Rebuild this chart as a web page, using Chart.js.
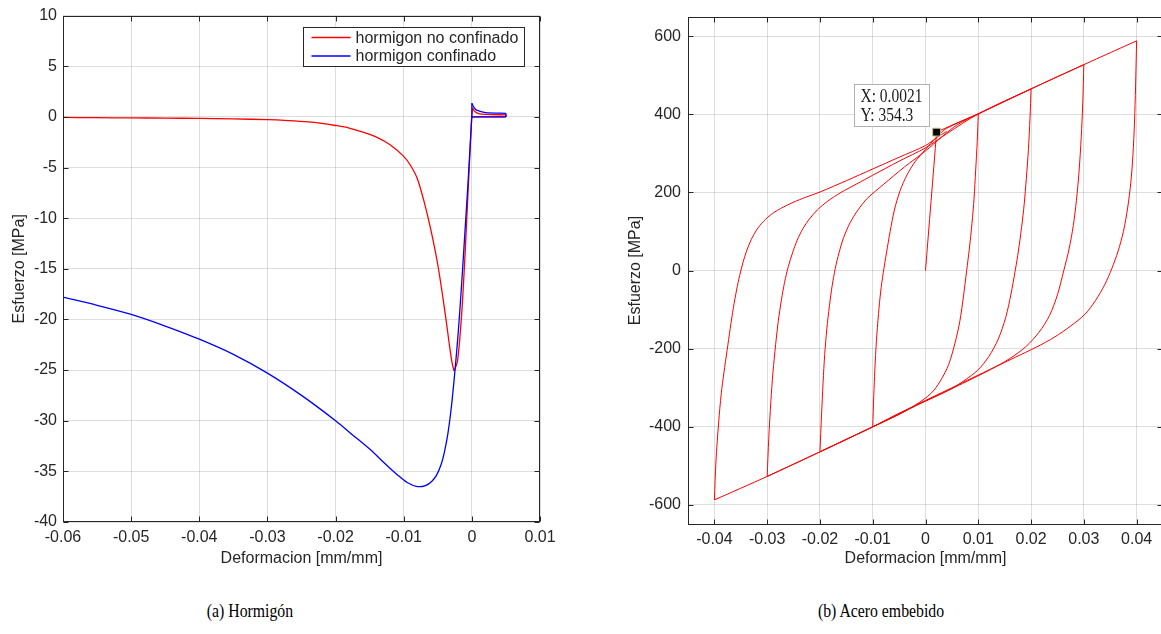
<!DOCTYPE html>
<html>
<head>
<meta charset="utf-8">
<script src="https://cdn.jsdelivr.net/npm/chart.js@4.4.0/dist/chart.umd.min.js"></script>
<style>
body { margin:0; width:1161px; height:634px; overflow:hidden; background:#fff; position:relative; }
.lienzo { position:absolute; top:0; width:580px; height:580px; }
.pie { position:absolute; top:600px; font-family:"Liberation Serif", "Times New Roman", serif; font-size:19px; line-height:22px; color:#000; white-space:nowrap; transform:translateX(-50%) scaleX(0.83); }
</style>
</head>
<body>
<div class="lienzo" style="left:0"><canvas id="hormigon" width="580" height="580"></canvas></div>
<div class="lienzo" style="left:600px"><canvas id="acero" width="580" height="580"></canvas></div>
<div class="pie" style="left:250px">(a) Hormigón</div>
<div class="pie" style="left:881px">(b) Acero embebido</div>
<script>
var nombres = ['hormigon no confinado', 'hormigon confinado'];
var colores = ['#ff0000', '#0000ff'];

// hormigon no confinado
var noConfDef = [-0.06, -0.055, -0.05, -0.045, -0.04, -0.035, -0.03, -0.027, -0.024, -0.022, -0.02, -0.018, -0.016, -0.014, -0.012, -0.01, -0.009, -0.008, -0.007, -0.006, -0.005, -0.004, -0.0033, -0.0029, -0.0026, -0.0021, -0.0015, -0.001, -0.0006, -0.00025, 0, 0.0001, 0.0004, 0.001, 0.002, 0.005, 0.005, 0];
var noConfEsf = [-0.05, -0.08, -0.1, -0.12, -0.15, -0.2, -0.28, -0.37, -0.5, -0.65, -0.85, -1.1, -1.5, -2.0, -2.75, -3.9, -4.8, -6.1, -8.4, -11.2, -14.6, -19.0, -22.5, -24.3, -25.1, -24.1, -19.5, -13.6, -8.0, -3.1, 0.15, 0.9, 0.55, 0.33, 0.25, 0.2, 0, 0];
var cortesNoConf = [24, 30, 31, 35, 36];

// hormigon confinado
var confDef = [-0.06, -0.055, -0.05, -0.045, -0.04, -0.035, -0.03, -0.025, -0.02, -0.0175, -0.015, -0.0125, -0.011, -0.0095, -0.008, -0.0068, -0.0059, -0.0052, -0.0045, -0.004, -0.0035, -0.003, -0.0025, -0.002, -0.0015, -0.001, -0.0005, 0, 0, 0.0003, 0.0007, 0.002, 0.005, 0.005, 0];
var confEsf = [-17.8, -18.6, -19.5, -20.65, -21.95, -23.45, -25.3, -27.5, -30.0, -31.4, -32.8, -34.4, -35.3, -36.1, -36.5, -36.4, -36.0, -35.4, -34.3, -33.0, -31.2, -28.6, -25.2, -21.3, -16.5, -11.2, -5.8, 0.2, 1.35, 0.95, 0.66, 0.42, 0.35, 0, 0];
var cortesConf = [27, 28, 32, 33];

// acero embebido: ciclos a +-0.01, 0.02, 0.03, 0.04 (una fila por rama)
var aceroDef = [
  0, 0.0021, 0.005, 0.01,
  0.0098, 0.0095, 0.0092, 0.0088, 0.0083, 0.0078, 0.0072, 0.0065, 0.0056, 0.0044, 0.0028, 0.001, -0.002, -0.005, -0.01,
  -0.0098, -0.0096, -0.0093, -0.0089, -0.0085, -0.008, -0.0074, -0.0067, -0.0059, -0.0048, -0.0035, -0.002, 0, 0.002, 0.004, 0.01, 0.02,
  0.0198, 0.0195, 0.0191, 0.0187, 0.0182, 0.0176, 0.017, 0.0162, 0.0152, 0.0138, 0.012, 0.0099, 0.0075, 0.005, 0.002, -0.002, -0.005, -0.01, -0.02,
  -0.0197, -0.0194, -0.0191, -0.0187, -0.0182, -0.0177, -0.0171, -0.0164, -0.0155, -0.0143, -0.0128, -0.011, -0.008, -0.004, 0, 0.003, 0.006, 0.01, 0.02, 0.03,
  0.0298, 0.0295, 0.0291, 0.0286, 0.028, 0.0272, 0.0262, 0.025, 0.0235, 0.0215, 0.019, 0.016, 0.0125, 0.009, 0.005, 0.001, -0.003, -0.006, -0.01, -0.02, -0.03,
  -0.0297, -0.0293, -0.0289, -0.0284, -0.0279, -0.0273, -0.0267, -0.026, -0.0252, -0.0243, -0.0232, -0.022, -0.0205, -0.0185, -0.016, -0.013, -0.01, -0.005, 0, 0.004, 0.01, 0.02, 0.03, 0.04,
  0.0398, 0.0396, 0.0393, 0.0389, 0.0383, 0.0375, 0.0365, 0.0353, 0.034, 0.0322, 0.0302, 0.0275, 0.0245, 0.021, 0.017, 0.013, 0.009, 0.005, 0.001, -0.003, -0.006, -0.01, -0.02, -0.03, -0.04,
  -0.0397, -0.0392, -0.0387, -0.0382, -0.0376, -0.037, -0.0364, -0.0358, -0.0352, -0.0346, -0.0339, -0.033, -0.032, -0.0307, -0.029, -0.027, -0.0245, -0.022, -0.02, -0.015, -0.01, -0.005, 0, 0.0021, 0.004
];
var aceroEsf = [
  0, 354.3, 372, 401,
  330, 255, 185, 120, 55, 0, -65, -130, -185, -240, -283, -315, -345, -368, -400,
  -320, -255, -180, -110, -55, -5, 45, 100, 155, 205, 245, 278, 310, 340, 364, 401, 465,
  390, 310, 235, 170, 110, 50, 0, -60, -120, -175, -220, -255, -280, -302, -322, -347, -368, -400, -464,
  -370, -285, -215, -150, -90, -40, 5, 45, 85, 122, 155, 185, 220, 265, 306, 341, 373, 401, 465, 527,
  430, 340, 255, 180, 115, 55, 0, -62, -115, -158, -195, -225, -252, -276, -302, -327, -353, -373, -400, -464, -527,
  -430, -335, -260, -190, -130, -75, -30, 10, 45, 78, 108, 132, 155, 178, 200, 222, 244, 280, 314, 350, 401, 465, 527, 588,
  470, 380, 295, 225, 160, 100, 50, 5, -35, -77, -112, -142, -170, -196, -222, -248, -274, -300, -326, -352, -372, -400, -464, -527, -587,
  -487, -390, -315, -262, -205, -148, -95, -50, -12, 20, 50, 80, 104, 126, 146, 162, 178, 191, 201, 230, 260, 290, 320, 340, 356
];

// punto marcado en la figura (b)
var datoDef = [0.0021];
var datoEsf = [354.3];

var ticksXHorm = [-0.06, -0.05, -0.04, -0.03, -0.02, -0.01, 0, 0.01];
var ticksYHorm = [-40, -35, -30, -25, -20, -15, -10, -5, 0, 5, 10];
var ticksXAcero = [-0.04, -0.03, -0.02, -0.01, 0, 0.01, 0.02, 0.03, 0.04];
var ticksYAcero = [-600, -400, -200, 0, 200, 400, 600];

// indices donde se invierte la deformacion (picos de cada ciclo)
function picos(xs) {
  var c = [];
  for (var i = 1; i < xs.length - 1; i++) {
    if ((xs[i] - xs[i - 1]) * (xs[i + 1] - xs[i]) < 0) c.push(i);
  }
  return c;
}
var cortesAcero = [1].concat(picos(aceroDef));

// parte una curva en ramas suaves que se unen en los picos
function ramas(xs, ys, cortes, color, ancho, orden) {
  var lim = [0].concat(cortes, [xs.length - 1]);
  var out = [];
  for (var k = 0; k < lim.length - 1; k++) {
    var p = [];
    for (var i = lim[k]; i <= lim[k + 1]; i++) p.push({x: xs[i], y: ys[i]});
    out.push({data: p, showLine: true, borderColor: color, borderWidth: ancho, pointRadius: 0, tension: 0.3, order: orden});
  }
  return out;
}

Chart.defaults.font.family = '"Liberation Sans", Arial, sans-serif';
Chart.defaults.font.size = 16;
Chart.defaults.color = '#262626';
Chart.defaults.animation = false;

var gris = 'rgba(0,0,0,0.13)';

// caja de ejes con marcas hacia dentro
var marco = {
  id: 'marco',
  afterDraw: function (chart) {
    var ctx = chart.ctx, a = chart.chartArea, sx = chart.scales.x, sy = chart.scales.y;
    var l = Math.round(a.left) + 0.5, r = Math.round(a.right) - 0.5;
    var t = Math.round(a.top) + 0.5, b = Math.round(a.bottom) - 0.5;
    ctx.save();
    ctx.strokeStyle = '#262626';
    ctx.lineWidth = 1;
    ctx.strokeRect(l, t, r - l, b - t);
    ctx.beginPath();
    sx.ticks.forEach(function (tk) {
      var px = Math.round(sx.getPixelForValue(tk.value)) + 0.5;
      ctx.moveTo(px, b); ctx.lineTo(px, b - 5);
      ctx.moveTo(px, t); ctx.lineTo(px, t + 5);
    });
    sy.ticks.forEach(function (tk) {
      var py = Math.round(sy.getPixelForValue(tk.value)) + 0.5;
      ctx.moveTo(l, py); ctx.lineTo(l + 5, py);
      ctx.moveTo(r, py); ctx.lineTo(r - 5, py);
    });
    ctx.stroke();
    ctx.restore();
  }
};

var leyenda = {
  id: 'leyenda',
  afterDraw: function (chart) {
    var ctx = chart.ctx;
    var x0 = 303.5, y0 = 27.5, w = 221, h = 39;
    ctx.save();
    ctx.fillStyle = '#fff';
    ctx.fillRect(x0, y0, w, h);
    ctx.strokeStyle = '#262626';
    ctx.lineWidth = 1;
    ctx.strokeRect(x0, y0, w, h);
    ctx.font = '16px "Liberation Sans", Arial, sans-serif';
    ctx.textBaseline = 'middle';
    nombres.forEach(function (nom, i) {
      var y = y0 + 10 + i * 18.5;
      ctx.strokeStyle = colores[i];
      ctx.lineWidth = 1.3;
      ctx.beginPath();
      ctx.moveTo(x0 + 8, y); ctx.lineTo(x0 + 47, y);
      ctx.stroke();
      ctx.fillStyle = '#262626';
      ctx.fillText(nom, x0 + 52, y + 1);
    });
    ctx.restore();
  }
};

var rotulo = {
  id: 'rotulo',
  afterDraw: function (chart) {
    var ctx = chart.ctx;
    var p = chart.getDatasetMeta(0).data[0];
    var x0 = Math.round(p.x) - 83 + 0.5, y0 = Math.round(p.y) - 48 + 0.5;
    ctx.save();
    ctx.fillStyle = '#fff';
    ctx.fillRect(x0, y0, 75, 42);
    ctx.strokeStyle = '#b0b0b0';
    ctx.lineWidth = 1;
    ctx.strokeRect(x0, y0, 75, 42);
    ctx.fillStyle = '#1a1a1a';
    ctx.font = '18px "Liberation Serif", "Times New Roman", serif';
    ctx.textBaseline = 'middle';
    ctx.translate(x0 + 6, y0);
    ctx.scale(0.86, 1);
    ctx.fillText('X: ' + datoDef[0].toFixed(4), 0, 13);
    ctx.fillText('Y: ' + datoEsf[0].toFixed(1), 0, 32);
    ctx.restore();
  }
};

function ejeX(min, max, valores, alto, pad) {
  return {
    type: 'linear', min: min, max: max,
    afterBuildTicks: function (s) { s.ticks = valores.map(function (v) { return {value: v}; }); },
    afterFit: function (s) { s.height = alto; },
    grid: {color: gris, drawTicks: false},
    border: {display: false},
    ticks: {padding: pad, maxRotation: 0, autoSkip: false, callback: function (v) { return String(v); }},
    title: {display: true, text: 'Deformacion [mm/mm]', padding: {top: 0, bottom: 12}}
  };
}

function ejeY(min, max, valores, ancho, pad, padTitulo) {
  return {
    type: 'linear', min: min, max: max,
    afterBuildTicks: function (s) { s.ticks = valores.map(function (v) { return {value: v}; }); },
    afterFit: function (s) { s.width = ancho; },
    grid: {color: gris, drawTicks: false},
    border: {display: false},
    ticks: {padding: pad, autoSkip: false, callback: function (v) { return String(v); }},
    title: {display: true, text: 'Esfuerzo [MPa]', padding: {top: padTitulo, bottom: 0}}
  };
}

new Chart(document.getElementById('hormigon'), {
  type: 'scatter',
  data: {
    datasets: ramas(noConfDef, noConfEsf, cortesNoConf, colores[0], 1.3, 2)
      .concat(ramas(confDef, confEsf, cortesConf, colores[1], 1.3, 1))
  },
  options: {
    responsive: false,
    layout: {padding: {top: 14, right: 40, left: 0, bottom: 0}},
    plugins: {legend: {display: false}, tooltip: {enabled: false}},
    scales: {
      x: ejeX(-0.06, 0.01, ticksXHorm, 58, 6),
      y: ejeY(-40, 10, ticksYHorm, 63, 6, 10)
    }
  },
  plugins: [marco, leyenda]
});

new Chart(document.getElementById('acero'), {
  type: 'scatter',
  data: {
    datasets: [
      {data: [{x: datoDef[0], y: datoEsf[0]}], showLine: false, pointStyle: 'rect', pointRadius: 5.5, backgroundColor: '#000', borderColor: '#c8b88a', borderWidth: 1, order: 0}
    ].concat(ramas(aceroDef, aceroEsf, cortesAcero, '#ff0000', 1, 2))
  },
  options: {
    responsive: false,
    layout: {padding: {top: 13.5, right: 17, left: 0, bottom: 0}},
    plugins: {legend: {display: false}, tooltip: {enabled: false}},
    scales: {
      x: ejeX(-0.045, 0.045, ticksXAcero, 55.5, 5),
      y: ejeY(-650, 650, ticksYAcero, 88, 7, 26)
    }
  },
  plugins: [marco, rotulo]
});
</script>
</body>
</html>
